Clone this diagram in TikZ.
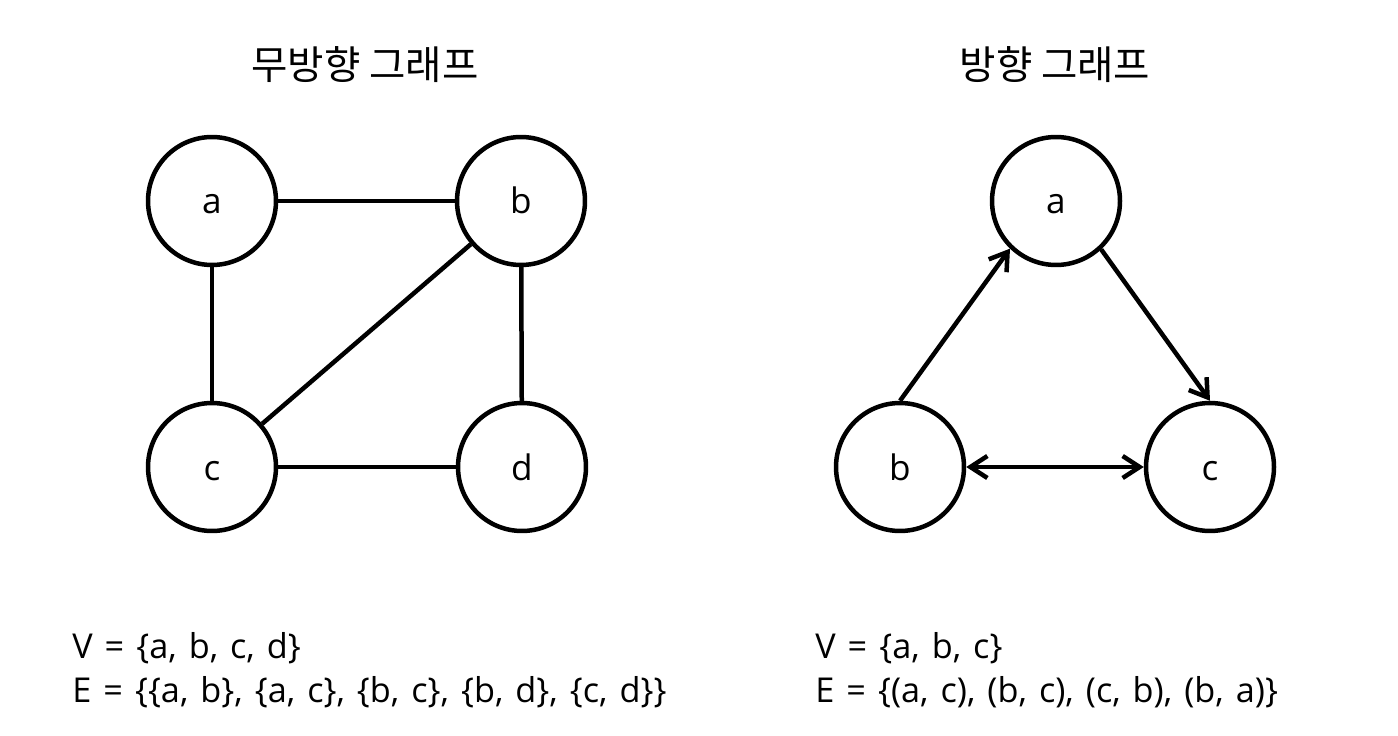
\documentclass[tikz,border=0pt]{standalone}
\usepackage{fontspec}
\setmainfont{Noto Sans CJK KR}
\newfontfamily\latinfont[WordSpace=1.35]{Open Sans}
\usetikzlibrary{arrows.meta}
\begin{document}
\begin{tikzpicture}[x=0.02cm,y=-0.02cm,
  vtx/.style={circle,draw,line width=0.09cm,minimum size=2.56cm,inner sep=0pt,text height=0.52cm,text depth=0pt,font=\latinfont\fontsize{20}{24}\selectfont},
  edge/.style={line width=0.09cm},
  arr/.style={line width=0.09cm,-{Straight Barb[length=0.34cm,width=0.44cm,line width=0.09cm]}},
  title/.style={font=\fontsize{22.5}{26}\selectfont},
  settext/.style={anchor=west,font=\latinfont\fontsize{19.5}{23}\selectfont,inner sep=0pt}]
\useasboundingbox (0,0) rectangle (1398,736);
% titles
\node[title] (t1) at (365,65) {무방향 그래프};
\node[title] (t2) at (1055,65) {방향 그래프};
% undirected
\node[vtx] (a) at (212,201) {a};
\node[vtx] (b) at (521,201) {b};
\node[vtx] (c) at (212,467) {c};
\node[vtx] (d) at (522,467) {d};
\draw[edge] (a) -- (b);
\draw[edge] (a) -- (c);
\draw[edge] (b) -- (c);
\draw[edge] (b) -- (d);
\draw[edge] (c) -- (d);
% directed
\node[vtx] (ra) at (1056,201) {a};
\node[vtx] (rb) at (900,467) {b};
\node[vtx] (rc) at (1210,467) {c};
\draw[arr] (rb.north) -- (ra.226);
\draw[arr] (ra.313) -- (rc.north);
\draw[arr,{Straight Barb[length=0.34cm,width=0.44cm,line width=0.09cm]}-{Straight Barb[length=0.34cm,width=0.44cm,line width=0.09cm]}] (rb.east) -- (rc.west);
% sets
\node[settext] (v1) at (72,648) {V = \{a, b, c, d\}};
\node[settext] (e1) at (72,692) {E = \{\{a, b\}, \{a, c\}, \{b, c\}, \{b, d\}, \{c, d\}\}};
\node[settext] (v2) at (815,648) {V = \{a, b, c\}};
\node[settext] (e2) at (815,692) {E = \{(a, c), (b, c), (c, b), (b, a)\}};
\end{tikzpicture}
\end{document}
